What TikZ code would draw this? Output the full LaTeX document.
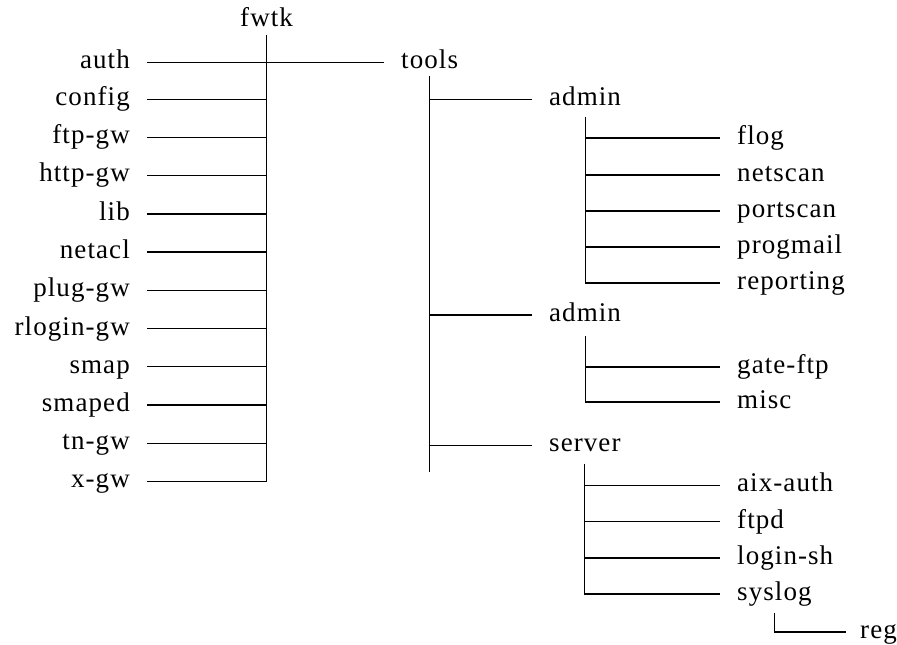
\documentclass[tikz,border=0pt]{standalone}
\usepackage{fontspec}
\newfontfamily\tfont{Liberation Serif}[LetterSpace=4]
\usetikzlibrary{calc}
\tikzset{
  lbl/.style={font=\tfont\fontsize{27}{30}\selectfont, inner xsep=17pt, inner ysep=0pt},
  ln/.style={line width=1.2pt, black}
}
\begin{document}
\tfont\fontsize{27}{30}\selectfont
\begin{tikzpicture}[x=1pt,y=-1pt]
\useasboundingbox (0,0) rectangle (897,645);
% root
\node[lbl, anchor=base] (fwtk) at (266.6,26) {fwtk};
\coordinate (fwtkv) at (266.6,35);
% left column
\node[lbl, anchor=mid east] (auth)    at (147,62.6)  {auth};
\node[lbl, anchor=mid east] (config)  at (147,99.8)  {config};
\node[lbl, anchor=mid east] (ftpgw)   at (147,137.5) {ftp-gw};
\node[lbl, anchor=mid east] (httpgw)  at (147,175.7) {http-gw};
\node[lbl, anchor=mid east] (lib)     at (147,214)   {lib};
\node[lbl, anchor=mid east] (netacl)  at (147,252)   {netacl};
\node[lbl, anchor=mid east] (pluggw)  at (147,290.5) {plug-gw};
\node[lbl, anchor=mid east] (rlogingw) at (147,328.8) {rlogin-gw};
\node[lbl, anchor=mid east] (smap)    at (147,366.8) {smap};
\node[lbl, anchor=mid east] (smaped)  at (147,405)   {smaped};
\node[lbl, anchor=mid east] (tngw)    at (147,443.6) {tn-gw};
\node[lbl, anchor=mid east] (xgw)     at (147,481.5) {x-gw};
% tools
\node[lbl, anchor=mid west] (tools) at (384,62.6) {tools};
% second level
\node[lbl, anchor=mid west] (admA)   at (532,99.8)  {admin};
\node[lbl, anchor=mid west] (admB)   at (532,315)   {admin};
\node[lbl, anchor=mid west] (server) at (532,445.7) {server};
% leaves
\node[lbl, anchor=mid west] (flog)      at (720,137.9) {flog};
\node[lbl, anchor=mid west] (netscan)   at (720,175)   {netscan};
\node[lbl, anchor=mid west] (portscan)  at (720,211)   {portscan};
\node[lbl, anchor=mid west] (progmail)  at (720,247)   {progmail};
\node[lbl, anchor=mid west] (reporting) at (720,283)   {reporting};
\node[lbl, anchor=mid west] (gateftp)   at (720,367)   {gate-ftp};
\node[lbl, anchor=mid west] (misc)      at (720,402)   {misc};
\node[lbl, anchor=mid west] (aixauth)   at (720,485.6) {aix-auth};
\node[lbl, anchor=mid west] (ftpd)      at (720,521.8) {ftpd};
\node[lbl, anchor=mid west] (loginsh)   at (720,558)   {login-sh};
\node[lbl, anchor=mid west] (syslog)    at (720,594)   {syslog};
\node[lbl, anchor=mid west, inner xsep=14pt] (reg) at (846,632) {reg};

% fwtk trunk
\draw[ln] (fwtkv) |- (xgw.mid east);
\draw[ln] (auth.mid east) -- (tools.mid west);
\foreach \n in {config,ftpgw,httpgw,lib,netacl,pluggw,rlogingw,smap,smaped,tngw}
  \draw[ln] (\n.mid east) -- (\n.mid east -| fwtkv);
% tools trunk
\draw[ln] ($(tools.mid)+(0,13)$) -- ($(tools.mid)+(0,409.4)$);
\foreach \n in {admA,admB,server}
  \draw[ln] (\n.mid west) -- (\n.mid west -| tools.mid);
% admin A
\draw[ln] ($(admA.mid)+(0,17)$) |- (reporting.mid west);
\foreach \n in {flog,netscan,portscan,progmail}
  \draw[ln] (\n.mid west) -- (\n.mid west -| admA.mid);
% admin B
\draw[ln] ($(admB.mid)+(0,21)$) |- (misc.mid west);
\draw[ln] (gateftp.mid west) -- (gateftp.mid west -| admB.mid);
% server
\draw[ln] ($(server.mid)+(0,18)$) |- (syslog.mid west);
\foreach \n in {aixauth,ftpd,loginsh}
  \draw[ln] (\n.mid west) -- (\n.mid west -| server.mid);
% syslog
\draw[ln] ($(syslog.mid)+(0,19)$) |- (reg.mid west);
\end{tikzpicture}
\end{document}
